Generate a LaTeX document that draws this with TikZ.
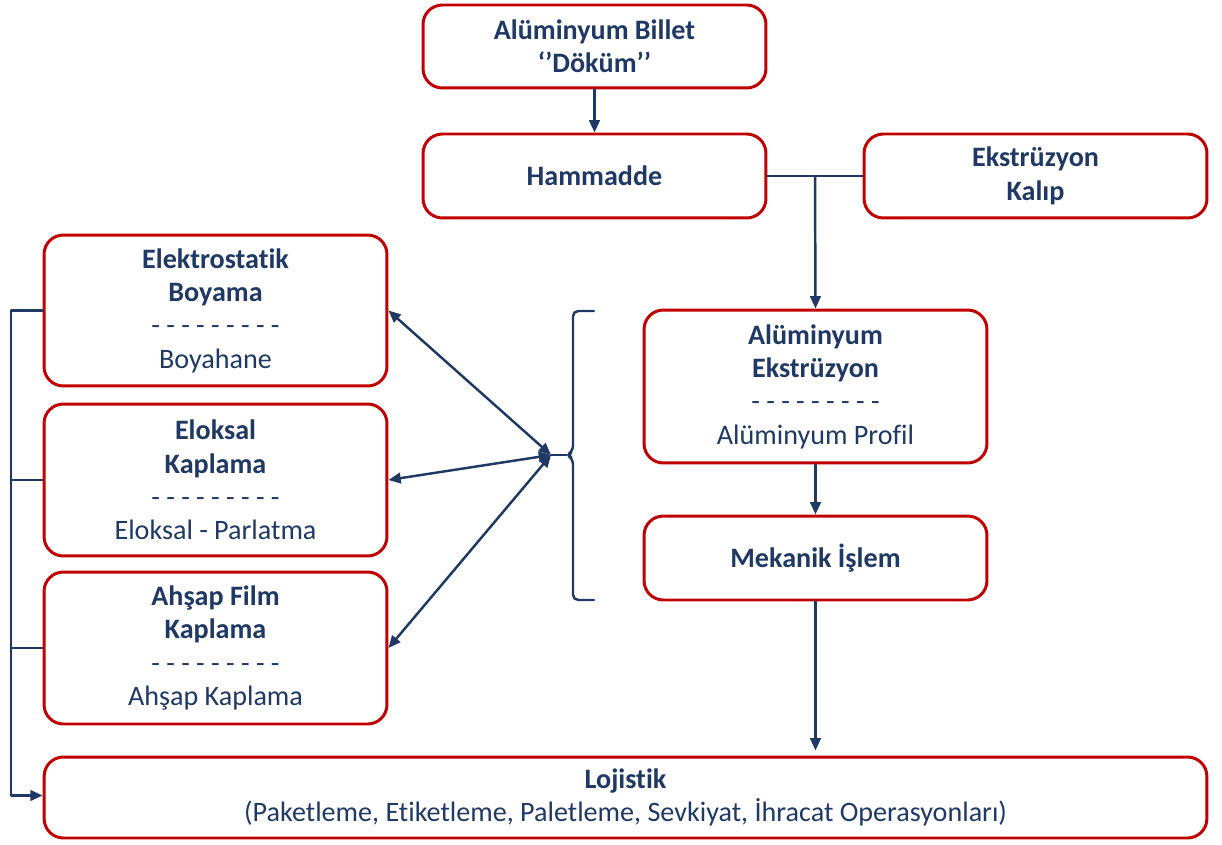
\documentclass[tikz,border=0pt]{standalone}
\usepackage{fontspec}
\setmainfont[Ligatures=NoCommon]{Carlito}
\usepackage[usenames]{xcolor}
\usepackage{tikz}
\usetikzlibrary{arrows.meta}
\definecolor{lacivert}{HTML}{1F3864}
\definecolor{kirmizi}{HTML}{C00000}

\begin{document}
\begin{tikzpicture}[x=0.02cm,y=-0.02cm,line cap=round,line join=round,>={Triangle[length=7pt,width=6pt]},
kutu/.style={draw=kirmizi,line width=1.7pt,rounded corners=11pt,fill=white,text=lacivert,align=center,minimum width=6.86cm,font=\fontsize{16}{19}\selectfont},
hat/.style={draw=lacivert,line width=1.4pt}]
\useasboundingbox (0,0) rectangle (1222,844);
\node[kutu,minimum height=1.66cm] (billet) at (594.5,46.5) {\textbf{Alüminyum Billet}\\\textbf{‘’Döküm’’}};
\node[kutu,minimum height=1.68cm] (hammadde) at (594.5,176) {\textbf{Hammadde}};
\node[kutu,minimum height=1.68cm] (kalip) at (1035.5,176) {\textbf{Ekstrüzyon}\\\textbf{Kalıp}};
\node[kutu,minimum height=3.02cm] (boya) at (215.5,310.5) {\textbf{Elektrostatik}\\\textbf{Boyama}\\- - - - - - - - -\\Boyahane};
\node[kutu,minimum height=3.04cm] (eloksal) at (215.5,480) {\textbf{Eloksal}\\\textbf{Kaplama}\\- - - - - - - - -\\Eloksal - Parlatma};
\node[kutu,minimum height=3.04cm] (ahsap) at (215.5,648) {\textbf{Ahşap Film}\\\textbf{Kaplama}\\- - - - - - - - -\\Ahşap Kaplama};
\node[kutu,minimum height=3.06cm] (ekstruzyon) at (815.5,386.5) {\textbf{Alüminyum}\\\textbf{Ekstrüzyon}\\- - - - - - - - -\\Alüminyum Profil};
\node[kutu,minimum height=1.68cm] (mekanik) at (815.5,558) {\textbf{Mekanik İşlem}};
\node[kutu,minimum height=1.62cm,minimum width=23.26cm] (lojistik) at (625.5,797.5) {\textbf{Lojistik}\\(Paketleme, Etiketleme, Paletleme, Sevkiyat, İhracat Operasyonları)};
% ana akis
\coordinate (kavsak) at (815,176);
\coordinate (uc) at (551,455);
\coordinate (hat) at (11,310);
\draw[hat,->] (billet) -- (hammadde);
\draw[hat] (hammadde.east) -- (kalip.west);
\draw[hat,->] (kavsak) -- (ekstruzyon.north);
\draw[hat,->] (ekstruzyon) -- (mekanik);
\draw[hat,->] (mekanik.south) -- ([yshift=0.1cm]mekanik.south |- lojistik.north);
% parantez
\draw[hat,rounded corners=3pt] (594,311) -- (573,311) -- (573,451) -- (567,455) -- (573,459) -- (573,600) -- (594,600);
\draw[hat] (567,455) -- (uc);
\draw[hat,<->] (boya.east) -- (uc);
\draw[hat,<->] (eloksal.east) -- (uc);
\draw[hat,<->] (ahsap.east) -- (uc);
% sol hat
\draw[hat,->] (boya.west) -- (boya.west -| hat) |- ([yshift=0.04cm]lojistik.west);
\draw[hat] (eloksal.west) -- (eloksal.west -| hat);
\draw[hat] (ahsap.west) -- (ahsap.west -| hat);
\end{tikzpicture}
\end{document}
